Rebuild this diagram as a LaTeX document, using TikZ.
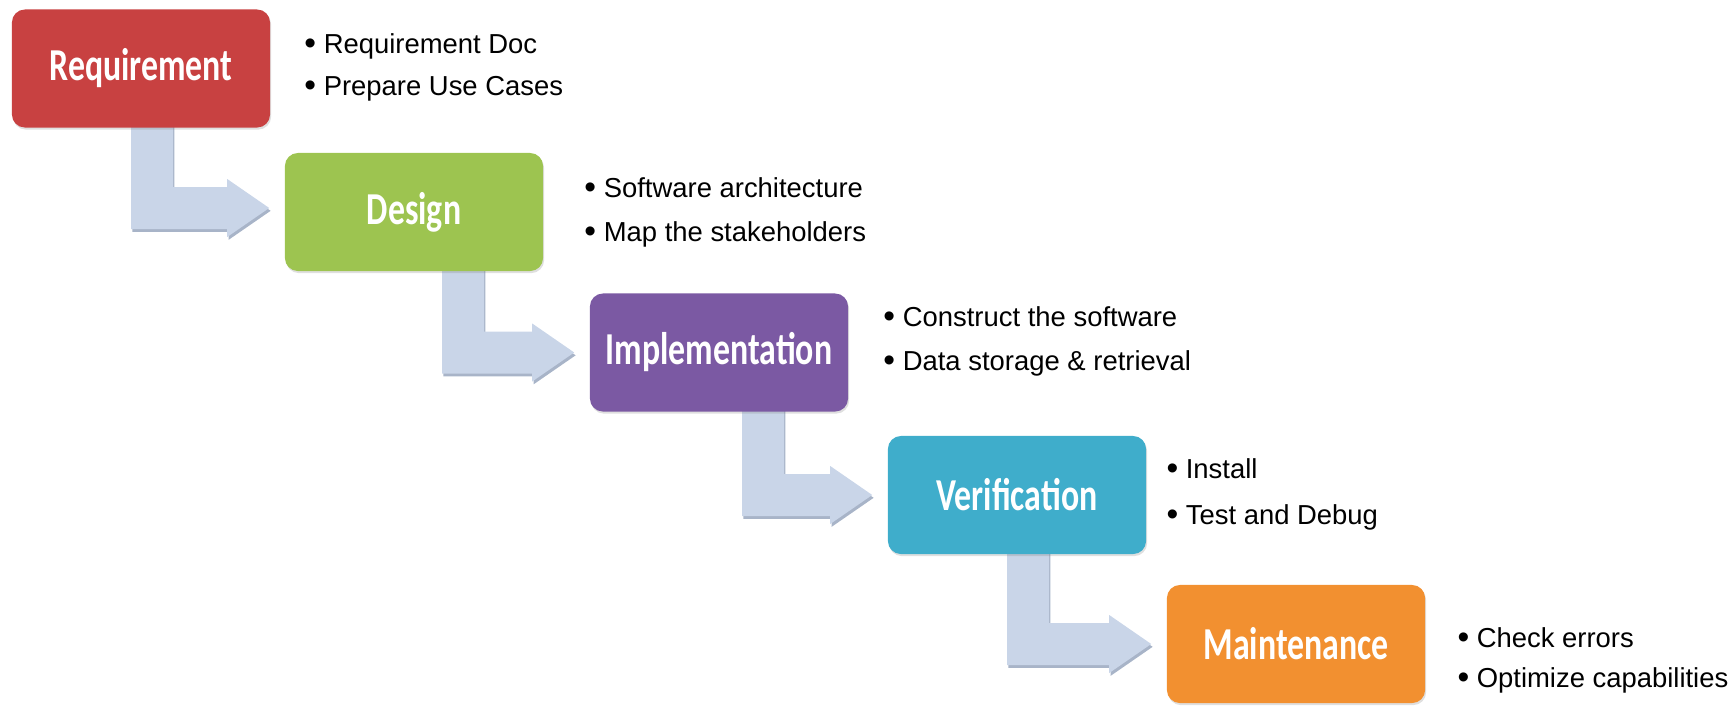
\documentclass[tikz,border=0pt]{standalone}
\usepackage{fontspec}
\setmainfont{Liberation Sans}
\newfontfamily\stagefont[FakeStretch=0.74]{Carlito}
\usetikzlibrary{calc,shadows,backgrounds}
\definecolor{stagered}{RGB}{200,65,65}
\definecolor{stagegreen}{RGB}{157,196,80}
\definecolor{stagepurple}{RGB}{123,89,163}
\definecolor{stagecyan}{RGB}{63,173,203}
\definecolor{stageorange}{RGB}{242,144,48}
\definecolor{arrowblue}{RGB}{201,213,232}
\definecolor{arrowshade}{RGB}{168,180,200}
\tikzset{
    stage/.style = {rectangle, rounded corners=0.13cm, minimum width=2.58cm, minimum height=1.18cm, inner sep=0pt, text=white, font=\stagefont\bfseries\fontsize{13}{15}\selectfont, drop shadow={shadow xshift=0.3pt, shadow yshift=-0.6pt, opacity=0.25}},
    note/.style = {anchor=base west, inner sep=0pt, font=\fontsize{7.8}{9}\selectfont},
    flow-arrow/.style = {fill=arrowblue, drop shadow={shadow xshift=0.4pt, shadow yshift=-0.8pt, fill=arrowshade, opacity=1}},
}
\newcommand{\dotitem}{{\fontsize{9.5}{9}\selectfont\raisebox{-0.4pt}{\textbullet}}\ }
% elbow arrow from the bottom of #1 to the left side of #2
% #3 = shift of the shaft, #4 = shift of the tip
\newcommand{\elbowarrow}[4]{%
  \fill[flow-arrow] ($(#1.south)+(#3,6)$) -- ++(42,0) |- ($(#2.west)+(-57,21+#4)$)
    -- ++(0,8) -- ($(#2.west)+(-15,#4)$) -- ++(-42,-29) -- ++(0,8)
    -| ($(#1.south)+(#3,6)$) -- cycle;}

\begin{document}
\begin{tikzpicture}[x=0.01cm, y=0.01cm]
\useasboundingbox (0,0) rectangle (1731,705);

% stages
\node[stage, fill=stagered]    (req) at (141,636.5) {Requirement};
\node[stage, fill=stagegreen]  (des) at (414,493)   {Design};
\node[stage, fill=stagepurple] (imp) at (719,352.5) {Implementation};
\node[stage, fill=stagecyan]   (ver) at (1017,210)  {Verification};
\node[stage, fill=stageorange] (mnt) at (1296,61)   {Maintenance};

% notes
\node[note] (req-a) at ($(req.east)+(33,15)$)    {\dotitem Requirement Doc};
\node[note] (req-b) at ($(req.east)+(33,-27)$)   {\dotitem Prepare Use Cases};
\node[note] (des-a) at ($(des.east)+(40,15)$)    {\dotitem Software architecture};
\node[note] (des-b) at ($(des.east)+(40,-29)$)   {\dotitem Map the stakeholders};
\node[note] (imp-a) at ($(imp.east)+(34,26.5)$)  {\dotitem Construct the software};
\node[note] (imp-b) at ($(imp.east)+(34,-17.5)$) {\dotitem Data storage \& retrieval};
\node[note] (ver-a) at ($(ver.east)+(19,17)$)    {\dotitem Install};
\node[note] (ver-b) at ($(ver.east)+(19,-29)$)   {\dotitem Test and Debug};
\node[note] (mnt-a) at ($(mnt.east)+(31,-3)$)    {\dotitem Check errors};
\node[note] (mnt-b) at ($(mnt.east)+(31,-43.5)$) {\dotitem Optimize capabilities};

% arrows
\begin{scope}[on background layer]
\elbowarrow{req}{des}{-10}{4}
\elbowarrow{des}{imp}{28}{0}
\elbowarrow{imp}{ver}{23}{0}
\elbowarrow{ver}{mnt}{-10}{0}
\end{scope}
\end{tikzpicture}
\end{document}
